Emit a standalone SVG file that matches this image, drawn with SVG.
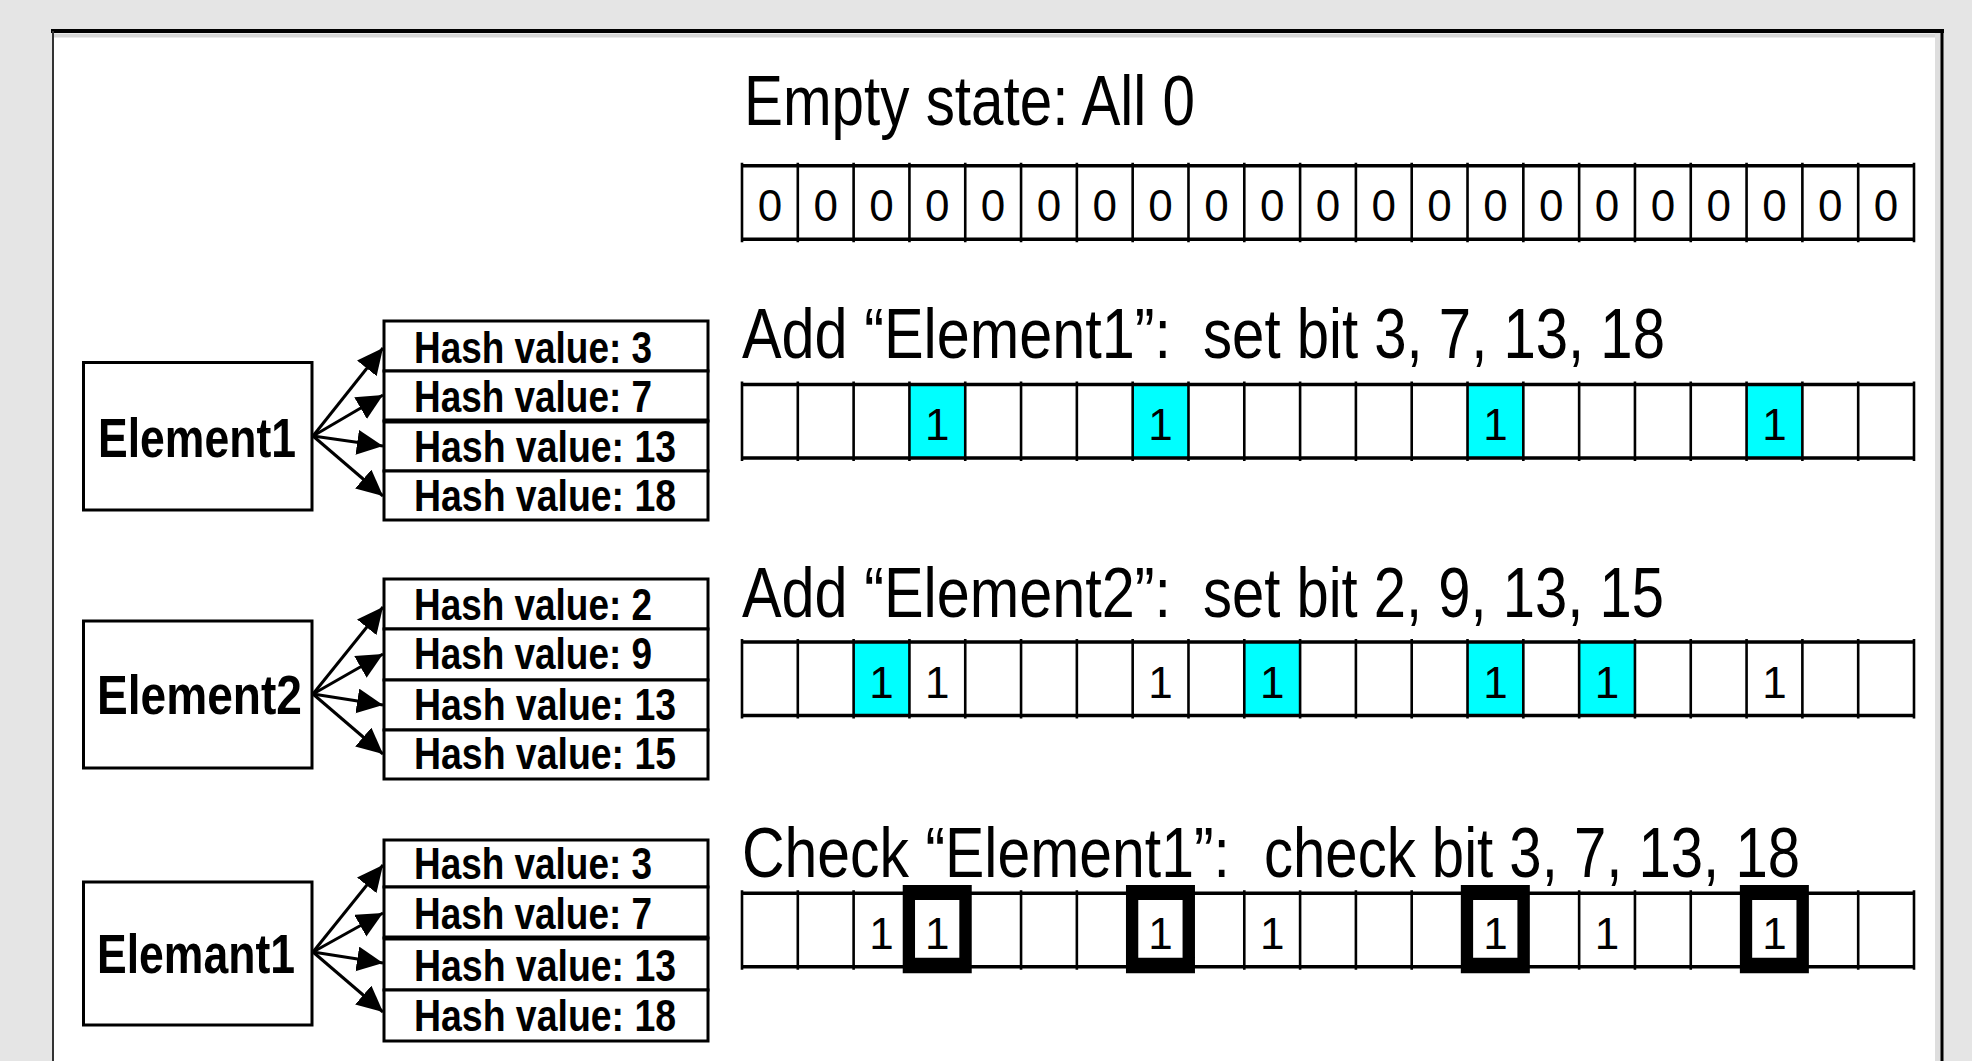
<svg xmlns="http://www.w3.org/2000/svg" xmlns:xlink="http://www.w3.org/1999/xlink" width="1972" height="1061" viewBox="0 0 1972 1061">
<style>
text{font-family:"Liberation Sans",Arial,sans-serif;fill:#000}
.title{font-size:70px}
.bit{font-size:44px;text-anchor:middle}
.hash{font-size:44px;font-weight:bold}
.elem{font-size:55px;font-weight:bold}
.box{fill:#fff;stroke:#000;stroke-width:3}
.hline{stroke:#000;stroke-width:3.5}
.vline{stroke:#000;stroke-width:2.6}
.cyan{fill:#00ffff}
#connectors line{stroke:#000;stroke-width:3;marker-end:url(#ah)}
</style>
<defs>
<marker id="ah" markerUnits="userSpaceOnUse" markerWidth="27" markerHeight="26" refX="26" refY="12.5" orient="auto">
<path d="M0,0 L26,12.5 L0,25 Z" fill="#000"/>
</marker>
<g id="grid">
<path class="hline" d="M742,0 H1914 M742,73.5 H1914"/>
<path class="vline" d="M742,-3V76.5 M797.81,-3V76.5 M853.62,-3V76.5 M909.43,-3V76.5 M965.24,-3V76.5 M1021.05,-3V76.5 M1076.86,-3V76.5 M1132.67,-3V76.5 M1188.48,-3V76.5 M1244.29,-3V76.5 M1300.1,-3V76.5 M1355.9,-3V76.5 M1411.71,-3V76.5 M1467.52,-3V76.5 M1523.33,-3V76.5 M1579.14,-3V76.5 M1634.95,-3V76.5 M1690.76,-3V76.5 M1746.57,-3V76.5 M1802.38,-3V76.5 M1858.19,-3V76.5 M1914,-3V76.5"/>
</g>
<path id="chk" fill="#000" fill-rule="evenodd" d="M-6.7,-8.3 H62.3 V80 H-6.7 Z M5.6,6.7 V64.4 H49.9 V6.7 Z"/>
</defs>

<rect x="0" y="0" width="1972" height="1061" fill="#e5e5e5"/>
<g id="frame">
<rect x="53" y="31" width="1888" height="1040" fill="#fff"/>
<rect x="53" y="33.5" width="1882" height="4" fill="#d6d6d6"/>
<rect x="1935" y="31" width="6" height="1040" fill="#dedede"/>
<line x1="51" y1="31" x2="1944" y2="31" stroke="#000" stroke-width="4"/>
<line x1="53" y1="31" x2="53" y2="1061" stroke="#333" stroke-width="2"/>
<line x1="1942" y1="31" x2="1942" y2="1061" stroke="#000" stroke-width="3"/>
</g>

<!-- Row 1: empty state -->
<g id="row-empty">
<text class="title" x="744" y="125" textLength="451" lengthAdjust="spacingAndGlyphs">Empty state: All 0</text>
<use xlink:href="#grid" y="165.7"/>
<g class="bit-digits">
<text class="bit" x="769.9" y="221">0</text>
<text class="bit" x="825.7" y="221">0</text>
<text class="bit" x="881.5" y="221">0</text>
<text class="bit" x="937.3" y="221">0</text>
<text class="bit" x="993.1" y="221">0</text>
<text class="bit" x="1049" y="221">0</text>
<text class="bit" x="1104.8" y="221">0</text>
<text class="bit" x="1160.6" y="221">0</text>
<text class="bit" x="1216.4" y="221">0</text>
<text class="bit" x="1272.2" y="221">0</text>
<text class="bit" x="1328" y="221">0</text>
<text class="bit" x="1383.8" y="221">0</text>
<text class="bit" x="1439.6" y="221">0</text>
<text class="bit" x="1495.4" y="221">0</text>
<text class="bit" x="1551.2" y="221">0</text>
<text class="bit" x="1607" y="221">0</text>
<text class="bit" x="1662.9" y="221">0</text>
<text class="bit" x="1718.7" y="221">0</text>
<text class="bit" x="1774.5" y="221">0</text>
<text class="bit" x="1830.3" y="221">0</text>
<text class="bit" x="1886.1" y="221">0</text>
</g>
</g>

<!-- Row 2: add Element1 -->
<g id="row-add1">
<text class="title" y="357.5"><tspan x="742" textLength="429" lengthAdjust="spacingAndGlyphs">Add “Element1”:</tspan><tspan x="1203" textLength="462" lengthAdjust="spacingAndGlyphs">set bit 3, 7, 13, 18</tspan></text>
<rect class="cyan" x="909.43" y="384.5" width="55.81" height="73.5"/>
<rect class="cyan" x="1132.67" y="384.5" width="55.81" height="73.5"/>
<rect class="cyan" x="1467.52" y="384.5" width="55.81" height="73.5"/>
<rect class="cyan" x="1746.57" y="384.5" width="55.81" height="73.5"/>
<use xlink:href="#grid" y="384.5"/>
<text class="bit" x="937.3" y="440">1</text>
<text class="bit" x="1160.6" y="440">1</text>
<text class="bit" x="1495.4" y="440">1</text>
<text class="bit" x="1774.5" y="440">1</text>
</g>

<!-- Row 3: add Element2 -->
<g id="row-add2">
<text class="title" y="616.5"><tspan x="742" textLength="429" lengthAdjust="spacingAndGlyphs">Add “Element2”:</tspan><tspan x="1203" textLength="461" lengthAdjust="spacingAndGlyphs">set bit 2, 9, 13, 15</tspan></text>
<rect class="cyan" x="853.62" y="642" width="55.81" height="73.5"/>
<rect class="cyan" x="1244.29" y="642" width="55.81" height="73.5"/>
<rect class="cyan" x="1467.52" y="642" width="55.81" height="73.5"/>
<rect class="cyan" x="1579.14" y="642" width="55.81" height="73.5"/>
<use xlink:href="#grid" y="642"/>
<text class="bit" x="881.5" y="697.5">1</text>
<text class="bit" x="937.3" y="697.5">1</text>
<text class="bit" x="1160.6" y="697.5">1</text>
<text class="bit" x="1272.2" y="697.5">1</text>
<text class="bit" x="1495.4" y="697.5">1</text>
<text class="bit" x="1607" y="697.5">1</text>
<text class="bit" x="1774.5" y="697.5">1</text>
</g>

<!-- Row 4: check Element1 -->
<g id="row-check">
<text class="title" y="876.7"><tspan x="742" textLength="488" lengthAdjust="spacingAndGlyphs">Check “Element1”:</tspan><tspan x="1264" textLength="536" lengthAdjust="spacingAndGlyphs">check bit 3, 7, 13, 18</tspan></text>
<use xlink:href="#grid" y="893.3"/>
<use xlink:href="#chk" x="909.43" y="893.3"/>
<use xlink:href="#chk" x="1132.67" y="893.3"/>
<use xlink:href="#chk" x="1467.52" y="893.3"/>
<use xlink:href="#chk" x="1746.57" y="893.3"/>
<text class="bit" x="881.5" y="949">1</text>
<text class="bit" x="937.3" y="949">1</text>
<text class="bit" x="1160.6" y="949">1</text>
<text class="bit" x="1272.2" y="949">1</text>
<text class="bit" x="1495.4" y="949">1</text>
<text class="bit" x="1607" y="949">1</text>
<text class="bit" x="1774.5" y="949">1</text>
</g>

<!-- Element nodes -->
<g id="element1">
<rect class="box" x="83.5" y="362.5" width="228.5" height="147.5"/>
<text class="elem" x="98" y="456.5" textLength="198" lengthAdjust="spacingAndGlyphs">Element1</text>
</g>
<g id="element2">
<rect class="box" x="83.5" y="621" width="228.5" height="147"/>
<text class="elem" x="97" y="714" textLength="205" lengthAdjust="spacingAndGlyphs">Element2</text>
</g>
<g id="elemant1">
<rect class="box" x="83.5" y="882" width="228.5" height="143"/>
<text class="elem" x="97" y="973" textLength="198" lengthAdjust="spacingAndGlyphs">Elemant1</text>
</g>

<!-- Hash nodes group 1 -->
<g id="hash1">
<rect class="box" x="384" y="321" width="324" height="50"/>
<rect class="box" x="384" y="371" width="324" height="50"/>
<rect class="box" x="384" y="421" width="324" height="50"/>
<rect class="box" x="384" y="471" width="324" height="49"/>
<line x1="384" y1="421" x2="708" y2="421" stroke="#000" stroke-width="5"/>
<text class="hash" x="414" y="363" textLength="238" lengthAdjust="spacingAndGlyphs">Hash value: 3</text>
<text class="hash" x="414" y="412" textLength="238" lengthAdjust="spacingAndGlyphs">Hash value: 7</text>
<text class="hash" x="414" y="461.5" textLength="262" lengthAdjust="spacingAndGlyphs">Hash value: 13</text>
<text class="hash" x="414" y="510.5" textLength="262" lengthAdjust="spacingAndGlyphs">Hash value: 18</text>
</g>

<!-- Hash nodes group 2 -->
<g id="hash2">
<rect class="box" x="384" y="579" width="324" height="50"/>
<rect class="box" x="384" y="629" width="324" height="51"/>
<rect class="box" x="384" y="680" width="324" height="50"/>
<rect class="box" x="384" y="730" width="324" height="49"/>
<text class="hash" x="414" y="619.5" textLength="238" lengthAdjust="spacingAndGlyphs">Hash value: 2</text>
<text class="hash" x="414" y="669" textLength="238" lengthAdjust="spacingAndGlyphs">Hash value: 9</text>
<text class="hash" x="414" y="719.5" textLength="262" lengthAdjust="spacingAndGlyphs">Hash value: 13</text>
<text class="hash" x="414" y="769" textLength="262" lengthAdjust="spacingAndGlyphs">Hash value: 15</text>
</g>

<!-- Hash nodes group 3 -->
<g id="hash3">
<rect class="box" x="384" y="840" width="324" height="47"/>
<rect class="box" x="384" y="887" width="324" height="51"/>
<rect class="box" x="384" y="938" width="324" height="52"/>
<rect class="box" x="384" y="990" width="324" height="51"/>
<line x1="384" y1="938" x2="708" y2="938" stroke="#000" stroke-width="5"/>
<text class="hash" x="414" y="879" textLength="238" lengthAdjust="spacingAndGlyphs">Hash value: 3</text>
<text class="hash" x="414" y="928.5" textLength="238" lengthAdjust="spacingAndGlyphs">Hash value: 7</text>
<text class="hash" x="414" y="981" textLength="262" lengthAdjust="spacingAndGlyphs">Hash value: 13</text>
<text class="hash" x="414" y="1030.5" textLength="262" lengthAdjust="spacingAndGlyphs">Hash value: 18</text>
</g>

<!-- Connectors -->
<g id="connectors">
<line x1="313" y1="436" x2="383" y2="348"/>
<line x1="313" y1="436" x2="383" y2="395"/>
<line x1="313" y1="436" x2="383" y2="446"/>
<line x1="313" y1="436" x2="383" y2="496"/>
<line x1="313" y1="694" x2="383" y2="607"/>
<line x1="313" y1="694" x2="383" y2="654"/>
<line x1="313" y1="694" x2="383" y2="705"/>
<line x1="313" y1="694" x2="383" y2="754"/>
<line x1="313" y1="952" x2="383" y2="865"/>
<line x1="313" y1="952" x2="383" y2="913"/>
<line x1="313" y1="952" x2="383" y2="963"/>
<line x1="313" y1="952" x2="383" y2="1012"/>
</g>
</svg>
